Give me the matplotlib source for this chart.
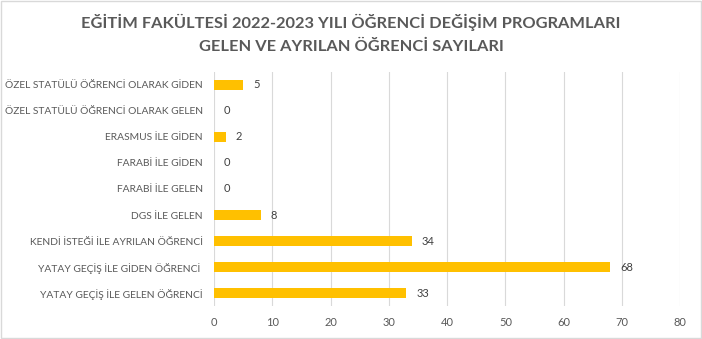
import matplotlib.pyplot as plt
from matplotlib.patches import Rectangle

categories = ['YATAY GEÇİŞ İLE GELEN ÖĞRENCİ',
              'YATAY GEÇİŞ İLE GİDEN ÖĞRENCİ ',
              'KENDİ İSTEĞİ İLE AYRILAN ÖĞRENCİ',
              'DGS İLE GELEN',
              'FARABİ İLE GELEN',
              'FARABİ İLE GİDEN',
              'ERASMUS İLE GİDEN',
              'ÖZEL STATÜLÜ ÖĞRENCİ OLARAK GELEN',
              'ÖZEL STATÜLÜ ÖĞRENCİ OLARAK GİDEN']
values = [33, 68, 34, 8, 0, 0, 2, 0, 5]
xticks = [0, 10, 20, 30, 40, 50, 60, 70, 80]

plt.rcParams['font.family'] = ['Lato', 'DejaVu Sans']
txt = '#595959'

fig = plt.figure(figsize=(7.02, 3.39), dpi=100)
fig.patches.append(Rectangle((0.002, 0.003), 0.996, 0.994, transform=fig.transFigure,
                             fill=False, edgecolor='#d9d9d9', lw=1))
ax = fig.add_axes([0.305, 0.097, 0.664, 0.691])

bars = ax.barh(range(len(values)), values, height=0.4, color='#FFC000', zorder=3)
for b, v in zip(bars, values):
    ax.annotate(str(v), (b.get_width(), b.get_y() + b.get_height() / 2),
                xytext=(7, 0), textcoords='offset points', va='center',
                fontsize=8, color='#404040')

ax.set_xlim(0, 80)
ax.set_ylim(-0.5, len(values) - 0.5)
ax.set_xticks(xticks)
ax.set_yticks(range(len(values)))
ax.set_yticklabels(categories)
ax.grid(axis='x', color='#d9d9d9', lw=0.8, zorder=0)
for s in ax.spines.values():
    s.set_visible(False)
ax.tick_params(axis='y', length=0, labelsize=7.4, colors=txt, pad=8)
ax.tick_params(axis='x', length=0, labelsize=8, colors=txt, pad=8)

fig.text(0.5, 0.935, 'EĞİTİM FAKÜLTESİ 2022-2023 YILI ÖĞRENCİ DEĞİŞİM PROGRAMLARI',
         ha='center', va='center', fontsize=11.8, fontweight='bold', color=txt)
fig.text(0.5, 0.862, 'GELEN VE AYRILAN ÖĞRENCİ SAYILARI',
         ha='center', va='center', fontsize=11.8, fontweight='bold', color=txt)

fig.savefig('out.png', dpi=100)
